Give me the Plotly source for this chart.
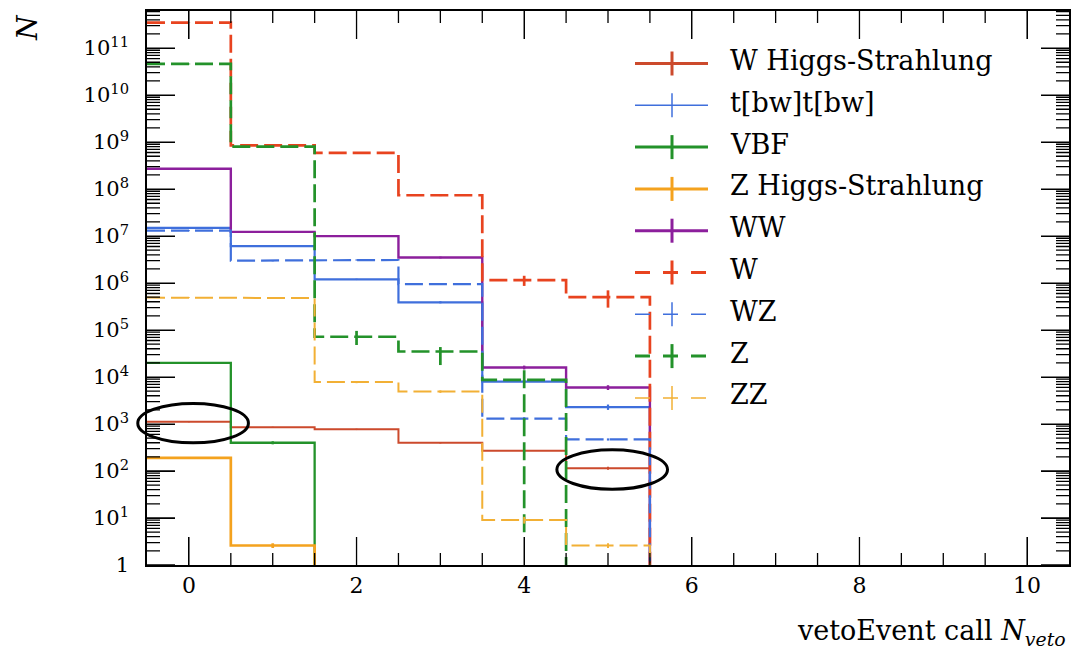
import math
import plotly.graph_objects as go
from plotly.subplots import make_subplots

# ---------------- data ----------------
bin_centers = [0, 1, 2, 3, 4, 5, 6, 7, 8, 9, 10]

series_names = ["W Higgs-Strahlung", "t[bw]t[bw]", "VBF", "Z Higgs-Strahlung",
                "WW", "W", "WZ", "Z", "ZZ"]

w_higgs = [1120, 850, 770, 400, 270, 115, 0, 0, 0, 0, 0]
tbwtbw = [1.5e7, 6.1e6, 1.2e6, 3.9e5, 8.0e3, 2.3e3, 0, 0, 0, 0, 0]
vbf = [2.0e4, 400, 0, 0, 0, 0, 0, 0, 0, 0, 0]
z_higgs = [190, 2.6, 0, 0, 0, 0, 0, 0, 0, 0, 0]
ww = [2.7e8, 1.23e7, 1.0e7, 3.5e6, 1.6e4, 6.0e3, 0, 0, 0, 0, 0]
w = [3.5e11, 8.5e8, 5.9e8, 7.4e7, 1.15e6, 5.0e5, 0, 0, 0, 0, 0]
wz = [1.3e7, 3.0e6, 3.1e6, 9.5e5, 1.3e3, 470, 0, 0, 0, 0, 0]
z = [4.6e10, 8.0e8, 7.2e4, 3.5e4, 8.7e3, 0, 0, 0, 0, 0, 0]
zz = [4.9e5, 4.8e5, 7.8e3, 4.9e3, 9.1, 2.6, 0, 0, 0, 0, 0]

w_higgs_err = [30, 25, 25, 15, 12, 8, 0, 0, 0, 0, 0]
tbwtbw_err = [3e5, 1.5e5, 4e4, 2e4, 6e2, 3e2, 0, 0, 0, 0, 0]
vbf_err = [6e2, 30, 0, 0, 0, 0, 0, 0, 0, 0, 0]
z_higgs_err = [5, 0.3, 0, 0, 0, 0, 0, 0, 0, 0, 0]
ww_err = [4e6, 4e5, 3e5, 1.5e5, 1.5e3, 7e2, 0, 0, 0, 0, 0]
w_err = [3e9, 2e7, 1.5e7, 3e6, 2.8e5, 2.0e5, 0, 0, 0, 0, 0]
wz_err = [3e5, 1e5, 1e5, 4e4, 1e2, 25, 0, 0, 0, 0, 0]
z_err = [8e8, 3e7, 2.4e4, 1.7e4, 8.695e3, 0, 0, 0, 0, 0, 0]
zz_err = [1e4, 1e4, 4e2, 3e2, 1.5, 0.3, 0, 0, 0, 0, 0]

x_tick_vals = [0, 2, 4, 6, 8, 10]
x_minor_vals = [0.5 * k for k in range(0, 21) if (0.5 * k) % 2 != 0]
y_tick_vals = [1, 1e1, 1e2, 1e3, 1e4, 1e5, 1e6, 1e7, 1e8, 1e9, 1e10, 1e11]
y_tick_text = ["1"] + ["10<sup>%d</sup>" % k for k in range(1, 12)]

highlight_bins = [0, 5]          # bins of W Higgs-Strahlung circled in the reference

# ---------------- styling ----------------
values = [w_higgs, tbwtbw, vbf, z_higgs, ww, w, wz, z, zz]
errors = [w_higgs_err, tbwtbw_err, vbf_err, z_higgs_err, ww_err, w_err, wz_err, z_err, zz_err]
colors = ["#cc4a2c", "#3f6fdc", "#23922a", "#f4a21e", "#8c1f9c",
          "#e8431f", "#3f6fdc", "#23922a", "#f2b035"]
dashed = [False, False, False, False, False, True, True, True, True]
widths = [2.0, 2.2, 2.3, 2.7, 2.4, 2.7, 2.2, 2.7, 2.0]
legend_widths = [3, 1.5, 3, 3, 3, 3, 1.5, 3, 1.5]

SERIF = "DejaVu Serif"
FLOOR = 1e-3
X_RANGE = [-0.5, 10.5]
Y_RANGE = [0, 11.79]
W_PX, H_PX = 1080, 650
M_L, M_R, M_T, M_B = 147, 11, 11, 85
PW, PH = W_PX - M_L - M_R, H_PX - M_T - M_B
MAJOR_LEN, MINOR_LEN_X, MINOR_LEN_Y = 28, 12, 13


def px_x(p):
    return (p - M_L) / PW


def px_y(p):
    return (H_PX - M_B - p) / PH


def xfrac(v):
    return (v - X_RANGE[0]) / (X_RANGE[1] - X_RANGE[0])


def yfrac(v):
    return (math.log10(v) - Y_RANGE[0]) / (Y_RANGE[1] - Y_RANGE[0])


def step_path(vals, errs):
    xs, ys = [], []
    for c, v in zip(bin_centers, vals):
        vv = v if v > 0 else FLOOR
        xs += [c - 0.5, c + 0.5]
        ys += [vv, vv]
    for c, v, e in zip(bin_centers, vals, errs):
        if v > 0 and e > 0:
            xs += [None, c, c]
            ys += [None, max(v - e, FLOOR), v + e]
    return xs, ys


fig = make_subplots(rows=1, cols=1)
for name, vals, errs, col, dsh, lw in zip(series_names, values, errors, colors, dashed, widths):
    xs, ys = step_path(vals, errs)
    fig.add_trace(go.Scatter(
        x=xs, y=ys, mode="lines", name=name, showlegend=False,
        line=dict(color=col, width=lw, dash="18px,6px" if dsh else "solid")), row=1, col=1)

fig.update_layout(
    width=W_PX, height=H_PX,
    margin=dict(l=M_L, r=M_R, t=M_T, b=M_B, pad=0),
    paper_bgcolor="white", plot_bgcolor="white",
    showlegend=False,
)
fig.update_xaxes(range=X_RANGE, tickmode="array", tickvals=x_tick_vals,
                 ticks="inside", ticklen=MAJOR_LEN, tickwidth=1.2, tickcolor="black",
                 showline=True, linecolor="black", linewidth=1.5, mirror="ticks",
                 showgrid=False, zeroline=False, automargin=False,
                 tickfont=dict(family=SERIF, size=22, color="black"))
fig.update_yaxes(type="log", range=Y_RANGE, tickmode="array", tickvals=y_tick_vals,
                 ticktext=y_tick_text,
                 ticks="inside", ticklen=MAJOR_LEN, tickwidth=1.2, tickcolor="black",
                 showline=True, linecolor="black", linewidth=1.5, mirror="ticks",
                 showgrid=False, zeroline=False, ticklabelstandoff=12, automargin=False,
                 tickfont=dict(family=SERIF, size=21, color="black"))

# ---- ROOT-style inside ticks on all four sides, as paper-referenced path shapes ----
y_minor_vals = [k * 10 ** d for d in range(0, 12) for k in range(2, 10)
                if math.log10(k * 10 ** d) < Y_RANGE[1]]
segs = []
for vals_, ln in ((x_tick_vals, MAJOR_LEN), (x_minor_vals, MINOR_LEN_X)):
    dl = ln / PH
    for t in vals_:
        fx = xfrac(t)
        segs.append("M%.5f,0 L%.5f,%.5f" % (fx, fx, dl))
        segs.append("M%.5f,1 L%.5f,%.5f" % (fx, fx, 1 - dl))
for vals_, ln in ((y_tick_vals, MAJOR_LEN), (y_minor_vals, MINOR_LEN_Y)):
    dl = ln / PW
    for t in vals_:
        fy = yfrac(t)
        segs.append("M0,%.5f L%.5f,%.5f" % (fy, dl, fy))
        segs.append("M1,%.5f L%.5f,%.5f" % (fy, 1 - dl, fy))
fig.add_shape(type="path", xref="paper", yref="paper", path=" ".join(segs),
              line=dict(color="black", width=1.3), fillcolor="rgba(0,0,0,0)")

# ---- ROOT-like legend ----
leg_y0, leg_dy = 63.5, 41.8
for i, (name, col, dsh, lw) in enumerate(zip(series_names, colors, dashed, legend_widths)):
    yp = leg_y0 + i * leg_dy
    fig.add_shape(type="line", xref="paper", yref="paper",
                  x0=px_x(635), x1=px_x(708), y0=px_y(yp), y1=px_y(yp),
                  line=dict(color=col, width=lw, dash="15px,13px" if dsh else "solid"))
    fig.add_shape(type="line", xref="paper", yref="paper",
                  x0=px_x(672), x1=px_x(672), y0=px_y(yp - 12), y1=px_y(yp + 12),
                  line=dict(color=col, width=lw))
    fig.add_annotation(text=name, xref="paper", yref="paper",
                       x=px_x(728), y=px_y(yp - 3), xanchor="left", yanchor="middle",
                       showarrow=False, font=dict(family=SERIF, size=27, color="black"))

# ---- ellipses around highlighted bins ----
for b in highlight_bins:
    lv = math.log10(w_higgs[b])
    x0, x1 = b + 0.05 - 0.66, b + 0.05 + 0.66
    y0, y1 = lv - 0.03 - 0.42, lv - 0.03 + 0.42
    fig.add_shape(type="circle", xref="paper", yref="paper",
                  x0=xfrac(x0), x1=xfrac(x1),
                  y0=(y0 - Y_RANGE[0]) / (Y_RANGE[1] - Y_RANGE[0]),
                  y1=(y1 - Y_RANGE[0]) / (Y_RANGE[1] - Y_RANGE[0]),
                  line=dict(color="black", width=3))

# axis titles
fig.add_annotation(text="<i>N</i>", xref="paper", yref="paper",
                   x=px_x(28), y=px_y(27), xanchor="center", yanchor="middle",
                   textangle=-90, showarrow=False,
                   font=dict(family=SERIF, size=28, color="black"))
fig.add_annotation(text="vetoEvent call <i>N</i><sub><i>veto</i></sub>",
                   xref="paper", yref="paper",
                   x=px_x(1068), y=px_y(632), xanchor="right", yanchor="middle",
                   showarrow=False, font=dict(family=SERIF, size=27, color="black"))

fig.write_html("out.html")
